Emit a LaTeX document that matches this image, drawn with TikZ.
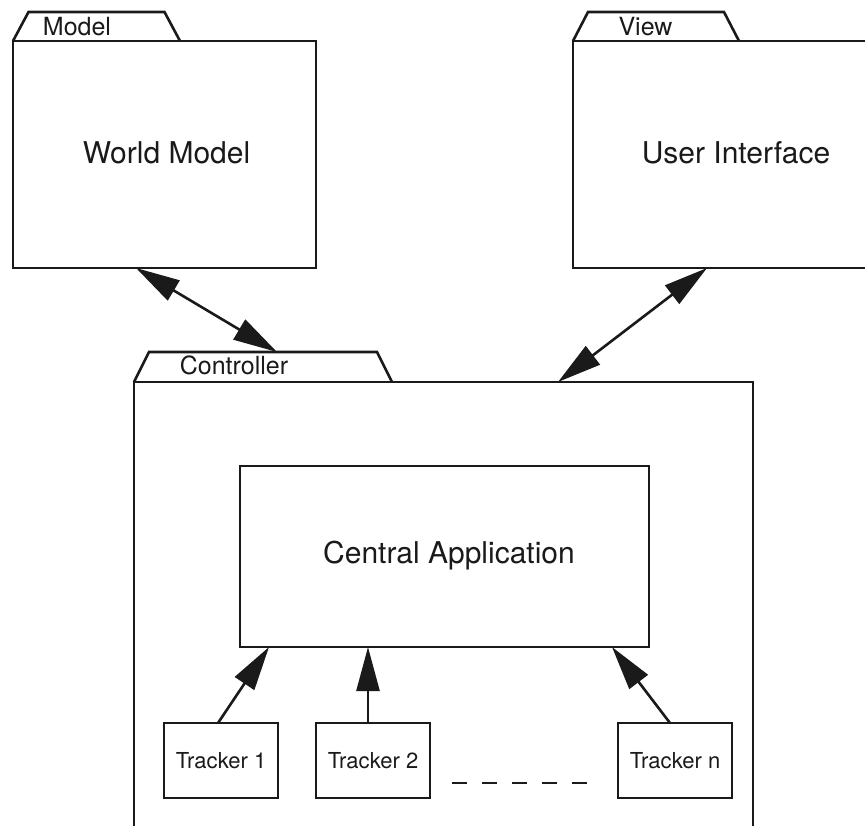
\documentclass[tikz,border=0pt]{standalone}
\usepackage{fontspec}
\setmainfont{TeX Gyre Heros}
\usetikzlibrary{arrows.meta,calc}
\definecolor{ink}{HTML}{1A1A1A}
\begin{document}
\begin{tikzpicture}[x=1pt,y=-1pt,
  ln/.style={line width=2.6pt, draw=ink},
  box/.style={ln, rectangle, inner sep=0pt, outer sep=0pt, anchor=north west},
  big/.style={font=\fontsize{30}{32}\selectfont, anchor=base, inner sep=0pt, text=ink},
  tablbl/.style={font=\fontsize{25}{28}\selectfont, anchor=base, inner sep=0pt, text=ink},
  trk/.style={box, font=\fontsize{22}{24}\selectfont, text=ink, minimum width=114pt, minimum height=75pt},
  onehead/.style={-{Triangle[length=44pt,width=23pt]}},
  twohead/.style={{Triangle[length=44pt,width=23pt]}-{Triangle[length=44pt,width=23pt]}},
]
\clip (0,0) rectangle (865,825);
\fill[white] (0,0) rectangle (865,825);

% Model package
\node[box, minimum width=303pt, minimum height=227pt] (model) at (13,41) {};
\draw[ln] (model.north west) -- ++(15.5,-29) -- ++(136,0) -- ++(15.5,29);
\node[tablbl] (modellbl) at (77,35) {Model};
\node[big] (worldmodel) at (166.5,163) {World Model};

% View package
\node[box, minimum width=326pt, minimum height=227pt] (view) at (573,41) {};
\draw[ln] (view.north west) -- ++(15,-29) -- ++(136,0) -- ++(15,29);
\node[tablbl] (viewlbl) at (645.5,35) {View};
\node[big] (ui) at (736,163) {User Interface};

% Controller package
\node[box, minimum width=619pt, minimum height=500pt] (ctrl) at (134,382) {};
\draw[ln] (ctrl.north west) -- ++(15,-30) -- ++(228,0) -- ++(15,30);
\node[tablbl] (ctrllbl) at (234,374) {Controller};

% Central application
\node[box, minimum width=409pt, minimum height=181pt] (central) at (240,466) {};
\node[big] (centrallbl) at (449,563) {Central Application};

% Trackers
\node[trk] (t1) at (164,723) {Tracker 1};
\node[trk] (t2) at (316,723) {Tracker 2};
\node[trk] (tn) at (618,723) {Tracker n};

\coordinate (d1) at (452,783);
\coordinate (d2) at (588,783);
\draw[ln, dash pattern=on 15pt off 15pt] (d1) -- (d2);

% Arrows
\draw[ln, twohead] ($(model.south west)+(123,0)$) -- ($(ctrl.north west)+(143,-30)$);
\draw[ln, twohead] ($(view.south west)+(134,0)$) -- ($(ctrl.north west)+(424,0)$);
\draw[ln, onehead] ($(t1.north west)+(54,0)$) -- ($(central.south west)+(29,0)$);
\draw[ln, onehead] ($(t2.north west)+(52,0)$) -- ($(central.south west)+(128,0)$);
\draw[ln, onehead] ($(tn.north west)+(52,0)$) -- ($(central.south west)+(372,0)$);
\end{tikzpicture}
\end{document}
